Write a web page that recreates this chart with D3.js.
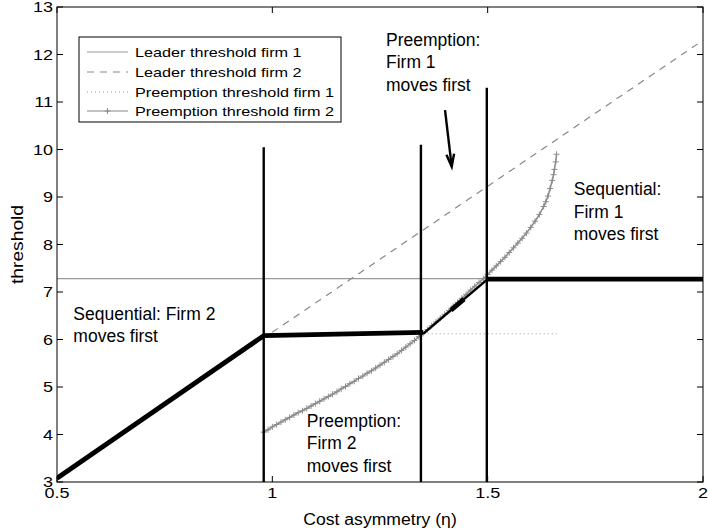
<!DOCTYPE html>
<html><head><meta charset="utf-8">
<script src="https://cdn.jsdelivr.net/npm/d3@7"></script>
<style>html,body{margin:0;padding:0;background:#fff;} svg{display:block;font-family:"Liberation Sans",Arial,Helvetica,sans-serif;}</style>
</head><body>
<svg id="c" width="708" height="532"></svg>
<script>
// ---- data ----
const xTicks = [0.5, 1, 1.5, 2];
const xTickLabels = ["0.5", "1", "1.5", "2"];
const yTicks = [3, 4, 5, 6, 7, 8, 9, 10, 11, 12, 13];
const yTickLabels = ["3", "4", "5", "6", "7", "8", "9", "10", "11", "12", "13"];

const leader1Eta = [0.5, 2];
const leader1Val = [7.28, 7.28];
const leader2Eta = [0.5, 2];
const leader2Val = [3.08, 12.3];
const preempt1Eta = [0.98, 1.66];
const preempt1Val = [6.12, 6.12];
const preempt2Eta = [0.98, 0.99, 1.0, 1.01, 1.02, 1.03, 1.04, 1.05, 1.06, 1.07, 1.08, 1.09, 1.10, 1.11, 1.12, 1.13, 1.14, 1.15, 1.16, 1.17, 1.18, 1.19, 1.20, 1.21, 1.22, 1.23, 1.24, 1.25, 1.26, 1.27, 1.28, 1.29, 1.30, 1.31, 1.32, 1.33, 1.34, 1.35, 1.36, 1.37, 1.38, 1.39, 1.40, 1.41, 1.42, 1.43, 1.44, 1.45, 1.46, 1.47, 1.48, 1.49, 1.50, 1.51, 1.52, 1.53, 1.54, 1.55, 1.56, 1.57, 1.58, 1.59, 1.60, 1.61, 1.62, 1.63, 1.635, 1.64, 1.645, 1.65, 1.653, 1.655, 1.658, 1.66];
const preempt2Val = [4.05, 4.10, 4.16, 4.21, 4.26, 4.31, 4.36, 4.41, 4.46, 4.50, 4.55, 4.60, 4.65, 4.70, 4.75, 4.80, 4.85, 4.90, 4.96, 5.01, 5.07, 5.12, 5.18, 5.23, 5.29, 5.34, 5.40, 5.46, 5.52, 5.58, 5.64, 5.70, 5.77, 5.84, 5.91, 5.98, 6.06, 6.13, 6.21, 6.29, 6.37, 6.45, 6.53, 6.61, 6.70, 6.78, 6.87, 6.95, 7.04, 7.12, 7.20, 7.28, 7.37, 7.46, 7.55, 7.64, 7.73, 7.83, 7.93, 8.03, 8.13, 8.24, 8.36, 8.49, 8.63, 8.80, 8.90, 9.02, 9.18, 9.35, 9.47, 9.58, 9.74, 9.90];

const eqEta = [0.5, 0.98, 1.35];
const eqVal = [3.08, 6.08, 6.15];
const eqTransEta = [1.35, 1.5];
const eqTransVal = [6.12, 7.27];
const eqJumpEta = [1.415, 1.445];
const eqJumpVal = [6.62, 6.85];
const eq2Eta = [1.5, 2];
const eq2Val = [7.27, 7.27];
const boundEta = [0.98, 1.345, 1.498];
const boundTop = [10.05, 10.1, 11.3];

const legendLabels = ["Leader threshold firm 1", "Leader threshold firm 2", "Preemption threshold firm 1", "Preemption threshold firm 2"];
const annotations = [
  {lines: ["Preemption:", "Firm 1", "moves first"], eta: 1.264, val: 12.18},
  {lines: ["Sequential:", "Firm 1", "moves first"], eta: 1.70, val: 9.04},
  {lines: ["Sequential: Firm 2", "moves first"], eta: 0.538, val: 6.42},
  {lines: ["Preemption:", "Firm 2", "moves first"], eta: 1.08, val: 4.16}
];
const arrowEta = [1.401, 1.4165];
const arrowVal = [10.83, 9.64];

// ---- layout ----
const L = 57, R = 703, T = 7, B = 482;
const svg = d3.select("#c");
const x = d3.scaleLinear().domain([0.5, 2]).range([L, R]);
const y = d3.scaleLinear().domain([3, 13]).range([B, T]);

function stretch(sel, f) {
  sel.each(function () {
    const n = this.getComputedTextLength();
    d3.select(this).attr("textLength", n * f).attr("lengthAdjust", "spacingAndGlyphs");
  });
  return sel;
}

svg.append("defs").append("clipPath").attr("id", "clip")
  .append("rect").attr("x", L).attr("y", T).attr("width", R - L).attr("height", B - T);
const g = svg.append("g").attr("clip-path", "url(#clip)");

const line = d3.line().x(d => x(d[0])).y(d => y(d[1]));
const zip = (a, b) => a.map((v, i) => [v, b[i]]);

// leader firm 1
g.append("path").attr("d", line(zip(leader1Eta, leader1Val))).attr("fill", "none")
  .attr("stroke", "#999").attr("stroke-width", 1.2);
// leader firm 2 (dashed)
g.append("path").attr("d", line(zip(leader2Eta, leader2Val))).attr("fill", "none")
  .attr("stroke", "#888").attr("stroke-width", 1.2).attr("stroke-dasharray", "7,6");
// preemption firm 1 (dotted)
g.append("path").attr("d", line(zip(preempt1Eta, preempt1Val))).attr("fill", "none")
  .attr("stroke", "#999").attr("stroke-width", 1).attr("stroke-dasharray", "1,3");
// preemption firm 2 (line + markers)
const p2 = zip(preempt2Eta, preempt2Val);
g.append("path").attr("d", line(p2)).attr("fill", "none")
  .attr("stroke", "#888").attr("stroke-width", 1.5);
g.selectAll("path.plus").data(p2).enter().append("path").attr("class", "plus")
  .attr("d", d => `M${x(d[0]) - 3},${y(d[1])}h6M${x(d[0])},${y(d[1]) - 3}v6`)
  .attr("stroke", "#8c8c8c").attr("stroke-width", 1).attr("fill", "none");

// equilibrium (black)
g.append("path").attr("d", line(zip(eqEta, eqVal))).attr("fill", "none")
  .attr("stroke", "#000").attr("stroke-width", 4.8).attr("stroke-linejoin", "round");
g.append("path").attr("d", line(zip(eqTransEta, eqTransVal))).attr("fill", "none")
  .attr("stroke", "#000").attr("stroke-width", 2.4);
g.append("path").attr("d", line(zip(eqJumpEta, eqJumpVal))).attr("fill", "none")
  .attr("stroke", "#000").attr("stroke-width", 4.8);
g.append("path").attr("d", line(zip(eq2Eta, eq2Val))).attr("fill", "none")
  .attr("stroke", "#000").attr("stroke-width", 4.8);
// boundaries
boundEta.forEach((e, i) => {
  g.append("line").attr("x1", x(e)).attr("x2", x(e)).attr("y1", y(3)).attr("y2", y(boundTop[i]))
    .attr("stroke", "#000").attr("stroke-width", 2.4);
});

// frame
svg.append("rect").attr("x", L).attr("y", T).attr("width", R - L).attr("height", B - T)
  .attr("fill", "none").attr("stroke", "#000").attr("stroke-width", 1);
// ticks (inward, all sides)
const tl = 6;
xTicks.forEach((t, i) => {
  svg.append("line").attr("x1", x(t)).attr("x2", x(t)).attr("y1", B).attr("y2", B - tl).attr("stroke", "#000");
  svg.append("line").attr("x1", x(t)).attr("x2", x(t)).attr("y1", T).attr("y2", T + tl).attr("stroke", "#000");
  stretch(svg.append("text").attr("x", x(t)).attr("y", B + 16).attr("text-anchor", "middle")
    .attr("font-size", 15).text(xTickLabels[i]), 1.2);
});
yTicks.forEach((t, i) => {
  svg.append("line").attr("x1", L).attr("x2", L + tl).attr("y1", y(t)).attr("y2", y(t)).attr("stroke", "#000");
  svg.append("line").attr("x1", R).attr("x2", R - tl).attr("y1", y(t)).attr("y2", y(t)).attr("stroke", "#000");
  stretch(svg.append("text").attr("x", L - 4).attr("y", y(t)).attr("dy", "0.36em").attr("text-anchor", "end")
    .attr("font-size", 15).text(yTickLabels[i]), 1.2);
});
// axis labels
stretch(svg.append("text").attr("x", (L + R) / 2).attr("y", 525).attr("text-anchor", "middle")
  .attr("font-size", 16).text("Cost asymmetry (η)"), 1.1);
stretch(svg.append("text").attr("transform", `translate(23,${(T + B) / 2}) rotate(-90)`).attr("text-anchor", "middle")
  .attr("font-size", 16).text("threshold"), 1.2);

// annotations
annotations.forEach(a => {
  const t = svg.append("text").attr("x", x(a.eta)).attr("y", y(a.val)).attr("font-size", 17.5);
  a.lines.forEach((s, i) => t.append("tspan").attr("x", x(a.eta)).attr("dy", i === 0 ? 0 : 22.5).text(s));
});
// arrow
const ax1 = x(arrowEta[0]), ay1 = y(arrowVal[0]), ax2 = x(arrowEta[1]), ay2 = y(arrowVal[1]);
svg.append("line").attr("x1", ax1).attr("y1", ay1).attr("x2", ax2).attr("y2", ay2)
  .attr("stroke", "#000").attr("stroke-width", 2.4);
const ang = Math.atan2(ay2 - ay1, ax2 - ax1);
const hl = 13, hw = 0.3;
svg.append("path")
  .attr("d", `M${ax2 - hl * Math.cos(ang - hw)},${ay2 - hl * Math.sin(ang - hw)}L${ax2},${ay2}L${ax2 - hl * Math.cos(ang + hw)},${ay2 - hl * Math.sin(ang + hw)}`)
  .attr("fill", "none").attr("stroke", "#000").attr("stroke-width", 2.4).attr("stroke-linejoin", "miter");

// legend
const lg = svg.append("g");
const lx = 79, ly = 37, lh = 85;
const box = lg.append("rect").attr("x", lx).attr("y", ly).attr("height", lh)
  .attr("fill", "#fff").attr("stroke", "#000").attr("stroke-width", 1);
const rows = [52, 72, 92, 111];
const styles = [
  {c: "#999", d: null}, {c: "#888", d: "7,6"}, {c: "#999", d: "1,3"}, {c: "#888", d: null, m: true}
];
let maxEnd = 0;
legendLabels.forEach((s, i) => {
  const yy = rows[i];
  const ln = lg.append("line").attr("x1", 87).attr("x2", 128).attr("y1", yy).attr("y2", yy)
    .attr("stroke", styles[i].c).attr("stroke-width", 1.2);
  if (styles[i].d) ln.attr("stroke-dasharray", styles[i].d);
  if (styles[i].m) lg.append("path").attr("d", `M${107.5 - 3},${yy}h6M${107.5},${yy - 3}v6`).attr("stroke", "#888");
  const t = lg.append("text").attr("x", 135).attr("y", yy).attr("dy", "0.36em").attr("font-size", 13.5).text(s);
  stretch(t, 1.2);
  maxEnd = Math.max(maxEnd, 135 + +t.attr("textLength"));
});
box.attr("width", maxEnd + 7 - lx);
</script>
</body></html>
